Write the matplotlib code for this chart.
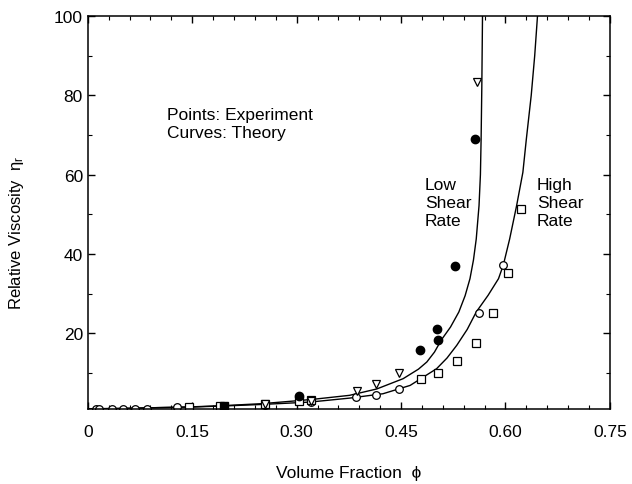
import numpy as np
import matplotlib.pyplot as plt
from matplotlib.ticker import MultipleLocator

plt.rcParams['font.family'] = ['Liberation Sans', 'DejaVu Sans']
plt.rcParams['mathtext.fontset'] = 'custom'
plt.rcParams['mathtext.rm'] = 'Liberation Sans'
plt.rcParams['mathtext.it'] = 'Liberation Sans:italic'

# theory curves
low_phi = [0.0, 0.05, 0.10, 0.15, 0.20, 0.25, 0.305, 0.329, 0.376, 0.415, 0.453,
           0.475, 0.487, 0.498, 0.508, 0.521, 0.533, 0.542, 0.549, 0.554, 0.558,
           0.562, 0.564, 0.565, 0.566, 0.567]
low_eta = [1.0, 1.1, 1.3, 1.5, 1.85, 2.3, 3.1, 3.5, 4.4, 6.0, 8.6,
           11.0, 12.8, 15.3, 18.4, 21.6, 25.4, 29.5, 33.8, 38.5, 43.8,
           52.2, 60.0, 69.0, 82.0, 100.0]
high_phi = [0.0, 0.05, 0.10, 0.15, 0.20, 0.25, 0.319, 0.376, 0.424, 0.463, 0.501,
            0.516, 0.530, 0.545, 0.558, 0.575, 0.590, 0.597, 0.606, 0.616, 0.625,
            0.630, 0.637, 0.642, 0.646]
high_eta = [1.0, 1.1, 1.3, 1.45, 1.75, 2.1, 2.7, 3.7, 4.8, 6.9, 11.1,
            13.8, 17.0, 21.0, 25.4, 29.6, 33.8, 37.3, 43.8, 52.2, 60.6,
            69.0, 80.0, 90.0, 100.0]

# experimental points
fcirc_phi = [0.303, 0.477, 0.502, 0.503, 0.528, 0.556]
fcirc_eta = [4.2, 15.9, 21.2, 18.4, 37.1, 69.0]
tri_phi = [0.254, 0.320, 0.386, 0.414, 0.447, 0.559]
tri_eta = [2.3, 3.0, 5.6, 7.3, 10.0, 83.3]
ocirc_phi = [0.011, 0.016, 0.034, 0.050, 0.068, 0.085, 0.128, 0.254, 0.320,
             0.385, 0.414, 0.447, 0.562, 0.597]
ocirc_eta = [1.0, 1.0, 1.0, 1.0, 1.0, 1.0, 1.4, 1.9, 2.6,
             4.0, 4.6, 6.0, 25.2, 37.3]
osq_phi = [0.145, 0.190, 0.254, 0.303, 0.320, 0.479, 0.503, 0.531, 0.557,
           0.582, 0.604, 0.622]
osq_eta = [1.4, 1.6, 2.2, 3.0, 3.2, 8.4, 10.1, 13.1, 17.6, 25.2, 35.3, 51.4]
fsq_phi = [0.195]
fsq_eta = [1.8]

x_ticks = [0, 0.15, 0.30, 0.45, 0.60, 0.75]
x_labels = ['0', '0.15', '0.30', '0.45', '0.60', '0.75']
y_ticks = [20, 40, 60, 80, 100]

fig = plt.figure(figsize=(6.32, 4.85), dpi=100)
ax = fig.add_axes([0.139, 0.155, 0.826, 0.81])

ax.plot(low_phi, low_eta, color='black', lw=1.0)
ax.plot(high_phi, high_eta, color='black', lw=1.0)

ms = 5.5
ax.plot(ocirc_phi, ocirc_eta, 'o', mfc='white', mec='black', ms=ms, mew=0.9)
ax.plot(osq_phi, osq_eta, 's', mfc='white', mec='black', ms=ms + 0.5, mew=0.9)
ax.plot(tri_phi, tri_eta, 'v', mfc='white', mec='black', ms=ms + 0.5, mew=0.9)
ax.plot(fcirc_phi, fcirc_eta, 'o', mfc='black', mec='black', ms=ms + 0.5)
ax.plot(fsq_phi, fsq_eta, 's', mfc='black', mec='black', ms=ms + 0.5)

ax.set_xlim(0, 0.75)
ax.set_ylim(1, 100)
ax.set_xticks(x_ticks)
ax.set_xticklabels(x_labels)
ax.xaxis.set_minor_locator(MultipleLocator(0.03))
ax.set_yticks(y_ticks)
ax.yaxis.set_minor_locator(MultipleLocator(10))
ax.tick_params(which='both', direction='in', top=True, right=True, labelsize=12.5)
ax.tick_params(which='major', length=5, width=1)
ax.tick_params(which='minor', length=3, width=0.8)
ax.tick_params(axis='x', pad=11)
for s in ax.spines.values():
    s.set_linewidth(1.1)

ax.set_xlabel('Volume Fraction  \u03d5', fontsize=12.5, labelpad=19)
ax.set_ylabel('Relative Viscosity  \u03b7$_\\mathrm{r}$', fontsize=12)
ax.yaxis.set_label_coords(-0.118, 0.45)

ax.text(0.113, 73, 'Points: Experiment\nCurves: Theory', fontsize=12.5,
        va='center', linespacing=1.25)
ax.text(0.484, 53, 'Low\nShear\nRate', fontsize=12.5, va='center', linespacing=1.25)
ax.text(0.645, 53, 'High\nShear\nRate', fontsize=12.5, va='center', linespacing=1.25)

fig.savefig('out.png', dpi=100)
